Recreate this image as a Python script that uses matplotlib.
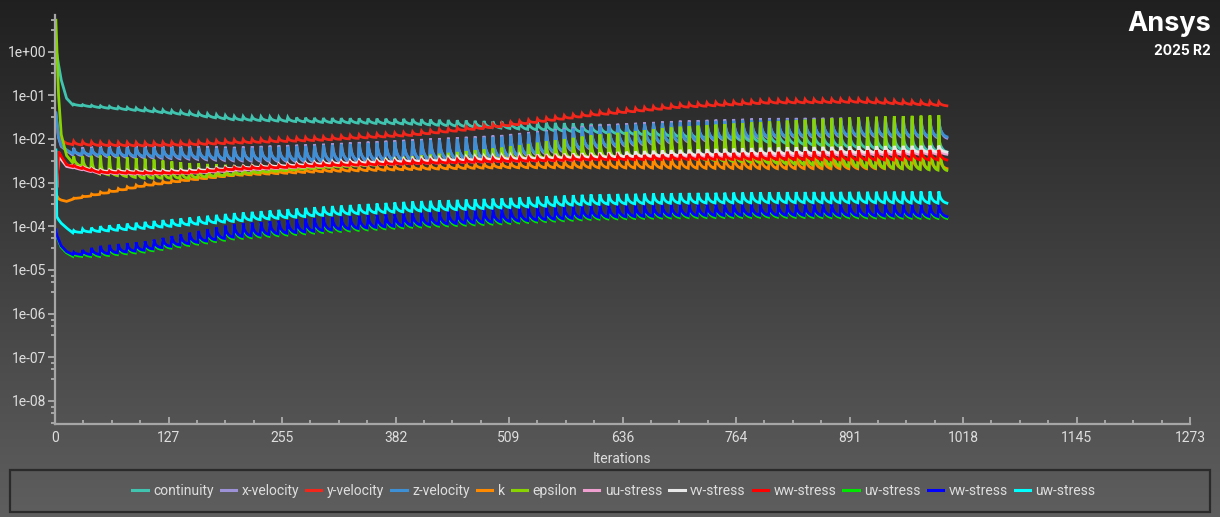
import numpy as np
import matplotlib.pyplot as plt
from matplotlib.lines import Line2D
from matplotlib.patches import Rectangle
from matplotlib.ticker import FixedLocator, FuncFormatter, NullFormatter, AutoMinorLocator

plt.rcParams['font.family'] = ['Roboto', 'DejaVu Sans']

anchor_iter = [1, 2, 4, 7, 13, 20, 50, 100, 150, 200, 300, 400, 500, 600, 700, 800, 900, 1000]
n_iter = 1000
step_len = 10          # iterations per time step

# log10(residual); *_lo = end of a time step, *_hi = first iteration of a step
continuity_lo = [0.08, -0.05, -0.3, -0.65, -1.07, -1.22, -1.28, -1.36, -1.45, -1.56, -1.62, -1.66, -1.75, -1.85, -1.95, -2.08, -2.2, -2.3]
continuity_hi = [0.08, -0.05, -0.3, -0.65, -1.07, -1.2, -1.24, -1.3, -1.38, -1.48, -1.52, -1.54, -1.6, -1.65, -1.7, -1.8, -1.9, -1.95]
xvel_lo = [-1.42, -1.62, -1.97, -2.17, -2.27, -2.37, -2.41, -2.43, -2.46, -2.5, -2.53, -2.5, -2.45, -2.23, -2.08, -1.98, -1.95, -1.98]
xvel_hi = [-1.42, -1.62, -1.97, -2.17, -2.27, -2.21, -2.16, -2.16, -2.16, -2.18, -2.11, -2.01, -1.91, -1.68, -1.58, -1.52, -1.51, -1.54]
yvel_lo = [-1.6, -1.75, -1.9, -2.02, -2.1, -2.13, -2.15, -2.16, -2.14, -2.1, -2.03, -1.92, -1.72, -1.47, -1.28, -1.18, -1.16, -1.24]
yvel_hi = [-1.6, -1.75, -1.9, -2.02, -2.1, -2.05, -2.07, -2.08, -2.06, -2.02, -1.95, -1.84, -1.64, -1.39, -1.2, -1.1, -1.08, -1.16]
zvel_lo = [-1.4, -1.6, -1.95, -2.15, -2.25, -2.34, -2.38, -2.4, -2.43, -2.47, -2.5, -2.47, -2.42, -2.2, -2.05, -1.95, -1.92, -1.95]
zvel_hi = [-1.4, -1.6, -1.95, -2.15, -2.25, -2.25, -2.2, -2.2, -2.2, -2.22, -2.15, -2.05, -1.95, -1.72, -1.62, -1.56, -1.55, -1.58]
k_lo = [-3.2, -3.3, -3.37, -3.4, -3.43, -3.38, -3.27, -3.08, -2.95, -2.84, -2.75, -2.7, -2.66, -2.66, -2.67, -2.68, -2.68, -2.68]
k_hi = [-3.2, -3.3, -3.37, -3.4, -3.43, -3.36, -3.22, -3.02, -2.89, -2.77, -2.67, -2.6, -2.54, -2.46, -2.41, -2.38, -2.36, -2.35]
eps_lo = [0.72, 0.1, -1.0, -1.9, -2.38, -2.55, -2.8, -2.9, -2.9, -2.82, -2.66, -2.56, -2.46, -2.42, -2.46, -2.55, -2.64, -2.72]
eps_hi = [0.72, 0.1, -1.0, -1.9, -2.38, -2.4, -2.38, -2.45, -2.55, -2.6, -2.55, -2.4, -2.2, -1.92, -1.72, -1.6, -1.5, -1.45]
uu_lo = [-2.32, -3.12, -2.32, -2.47, -2.63, -2.66, -2.79, -2.81, -2.79, -2.73, -2.63, -2.57, -2.52, -2.48, -2.43, -2.4, -2.37, -2.35]
uu_hi = [-2.32, -3.12, -2.32, -2.47, -2.63, -2.64, -2.75, -2.77, -2.75, -2.68, -2.57, -2.5, -2.43, -2.37, -2.3, -2.25, -2.22, -2.2]
vv_lo = [-2.3, -3.1, -2.3, -2.45, -2.6, -2.62, -2.74, -2.76, -2.74, -2.68, -2.58, -2.52, -2.47, -2.43, -2.38, -2.35, -2.32, -2.3]
vv_hi = [-2.3, -3.1, -2.3, -2.45, -2.6, -2.6, -2.7, -2.72, -2.7, -2.63, -2.52, -2.45, -2.38, -2.32, -2.25, -2.2, -2.17, -2.15]
ww_lo = [-2.29, -3.16, -2.29, -2.4, -2.59, -2.63, -2.77, -2.79, -2.78, -2.7, -2.62, -2.57, -2.52, -2.48, -2.47, -2.47, -2.48, -2.48]
ww_hi = [-2.29, -3.16, -2.29, -2.4, -2.59, -2.6, -2.73, -2.75, -2.74, -2.65, -2.56, -2.5, -2.44, -2.4, -2.35, -2.3, -2.26, -2.25]
uv_lo = [-4.09, -4.22, -4.33, -4.48, -4.61, -4.69, -4.69, -4.59, -4.44, -4.29, -4.14, -4.02, -3.94, -3.84, -3.8, -3.79, -3.8, -3.82]
uv_hi = [-4.09, -4.22, -4.33, -4.48, -4.61, -4.63, -4.48, -4.38, -4.18, -3.98, -3.83, -3.73, -3.63, -3.56, -3.53, -3.53, -3.53, -3.54]
vw_lo = [-4.08, -4.2, -4.3, -4.45, -4.58, -4.65, -4.65, -4.55, -4.4, -4.25, -4.1, -3.98, -3.9, -3.8, -3.76, -3.75, -3.76, -3.78]
vw_hi = [-4.08, -4.2, -4.3, -4.45, -4.58, -4.6, -4.45, -4.35, -4.15, -3.95, -3.8, -3.7, -3.6, -3.53, -3.5, -3.5, -3.5, -3.51]
uw_lo = [-2.25, -3.78, -3.85, -3.93, -4.04, -4.15, -4.12, -4.05, -3.97, -3.89, -3.75, -3.66, -3.58, -3.5, -3.47, -3.46, -3.46, -3.47]
uw_hi = [-2.25, -3.78, -3.85, -3.93, -4.04, -4.1, -4.0, -3.9, -3.8, -3.7, -3.55, -3.43, -3.36, -3.27, -3.24, -3.22, -3.21, -3.2]

# shape of one time step (share of the lo->hi jump, per iteration inside the step)
tooth_soft = [1.0, 0.62, 0.42, 0.3, 0.21, 0.14, 0.09, 0.05, 0.02, 0.0]
tooth_sharp = [1.0, 0.45, 0.25, 0.15, 0.09, 0.05, 0.03, 0.015, 0.005, 0.0]

names = ['continuity', 'x-velocity', 'y-velocity', 'z-velocity', 'k', 'epsilon',
         'uu-stress', 'vv-stress', 'ww-stress', 'uv-stress', 'vw-stress', 'uw-stress']
colors = ['#40c4b0', '#9d92d8', '#f2261a', '#3d8fd6', '#ff8a00', '#88d400',
          '#f0a0d0', '#e8e8e8', '#ff0000', '#00e600', '#0000ff', '#00ffff']
lows = [continuity_lo, xvel_lo, yvel_lo, zvel_lo, k_lo, eps_lo, uu_lo, vv_lo, ww_lo, uv_lo, vw_lo, uw_lo]
highs = [continuity_hi, xvel_hi, yvel_hi, zvel_hi, k_hi, eps_hi, uu_hi, vv_hi, ww_hi, uv_hi, vw_hi, uw_hi]
teeth = [tooth_soft] * 5 + [tooth_sharp] + [tooth_soft] * 6

x_max = 1272.6
x_labels = ['0', '127', '255', '382', '509', '636', '764', '891', '1018', '1145', '1273']

iters = np.arange(1, n_iter + 1)


def residual(lo, hi, tooth):
    lo_i = np.interp(iters, anchor_iter, lo)
    hi_i = np.interp(iters, anchor_iter, hi)
    j = (iters - 21) % step_len
    share = np.where(iters > 20, np.array(tooth)[j], 0.0)
    return 10 ** (lo_i + (hi_i - lo_i) * share)


W, H = 1220, 517
fig = plt.figure(figsize=(W / 100, H / 100), dpi=100)

# background gradient over the whole window
bg = fig.add_axes([0, 0, 1, 1], zorder=-10)
grad = np.linspace(0.125, 0.37, 256).reshape(-1, 1)
bg.imshow(np.dstack([grad, grad, grad]), aspect='auto', extent=[0, 1, 0, 1], origin='upper')
bg.set_axis_off()

ax = fig.add_axes([55 / W, 1 - 424 / H, (1190 - 55) / W, (424 - 15) / H])
ax.set_facecolor('none')

for name, c, lo, hi, tooth in zip(names, colors, lows, highs, teeth):
    ax.plot(iters, residual(lo, hi, tooth), color=c, lw=2.0, label=name, solid_joinstyle='miter')

ax.set_yscale('log')
ax.set_ylim(10 ** -8.53, 10 ** 0.84)
ax.set_xlim(0, x_max)

axis_col = '#a6a6a6'
text_col = '#dedede'
for s in ['top', 'right']:
    ax.spines[s].set_visible(False)
for s in ['left', 'bottom']:
    ax.spines[s].set_color(axis_col)
    ax.spines[s].set_linewidth(1.6)

ax.yaxis.set_major_locator(FixedLocator(10.0 ** np.arange(-8, 1)))
ax.yaxis.set_major_formatter(FuncFormatter(lambda v, p: f'{v:.0e}'))
minor = []
for d in range(-9, 1):
    minor += [10 ** (d + 1 - 0.14), 10 ** (d + 1 - 0.28), 10 ** (d + 0.5)]
ax.yaxis.set_minor_locator(FixedLocator(minor))
ax.yaxis.set_minor_formatter(NullFormatter())

ax.set_xticks([x_max * i / 10 for i in range(11)])
ax.set_xticklabels(x_labels)
ax.xaxis.set_minor_locator(AutoMinorLocator(4))

ax.tick_params(axis='y', which='major', direction='out', length=5, width=1.4, color=axis_col,
               labelcolor=text_col, labelsize=10, pad=1)
ax.tick_params(axis='y', which='minor', direction='out', length=3, width=1.4, color=axis_col)
ax.tick_params(axis='x', which='major', direction='in', length=5, width=1.4, color=axis_col,
               labelcolor=text_col, labelsize=10, pad=5)
ax.tick_params(axis='x', which='minor', direction='in', length=3, width=1.4, color=axis_col)

ax.set_xlabel('Iterations', color=text_col, fontsize=10, labelpad=5)

# legend strip
fig.patches.append(Rectangle((10 / W, 1 - 512 / H), 1200 / W, 42 / H, transform=fig.transFigure,
                             fill=False, edgecolor='#2a2a2a', lw=1.6))
handles = [Line2D([], [], color=c, lw=2.2) for c in colors]
fig.legend(handles, names, loc='center', bbox_to_anchor=(614 / W, 1 - 491 / H), ncol=12,
           frameon=False, fontsize=10, labelcolor=text_col, handlelength=1.1,
           handletextpad=0.4, columnspacing=0.5)

# logo
fig.text(1211 / W, 1 - 24 / H, 'Ansys', ha='right', va='center', color='white',
         fontsize=19.5, fontweight='bold', family=['Inter', 'DejaVu Sans'])
fig.text(1211 / W, 1 - 51 / H, '2025 R2', ha='right', va='center', color='white',
         fontsize=10, fontweight='bold', family=['Inter', 'DejaVu Sans'])

fig.savefig('out.png', dpi=100)
